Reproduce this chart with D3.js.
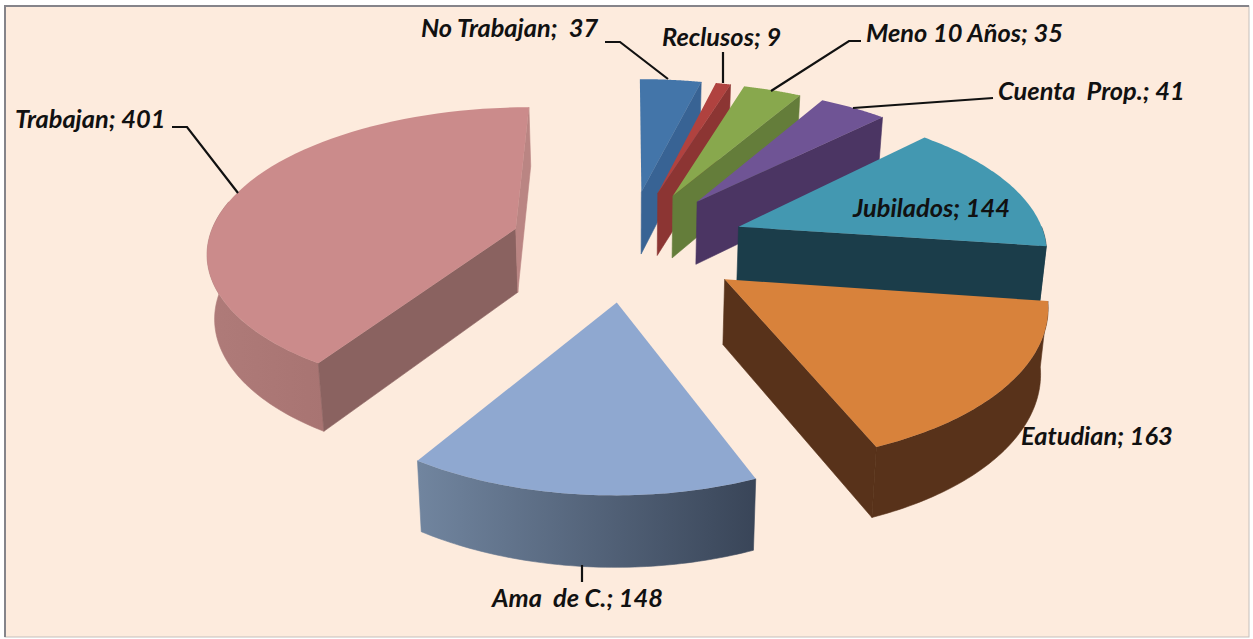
<!DOCTYPE html>
<html>
<head>
<meta charset="utf-8">
<script src="https://cdn.jsdelivr.net/npm/d3@7"></script>
<style>
  html, body { margin: 0; background: #fff; }
  text { font-family: Lato, "Open Sans", sans-serif; font-weight: 700; font-style: italic; font-size: 25.4px; fill: #111; white-space: pre; }
</style>
</head>
<body>
<svg width="1253" height="639"></svg>
<script>
const categories = ["No Trabajan", "Reclusos", "Meno 10 Años", "Cuenta  Prop.", "Jubilados", "Eatudian", "Ama  de C.", "Trabajan"];
const values = [37, 9, 35, 41, 144, 163, 148, 401];

const topColors = ["#4375A9", "#B0423F", "#88A84D", "#6F5495", "#4398B1", "#D8823B", "#8FA8D0", "#CB8B8B"];
const cutColors = ["#386394", "#8C3533", "#647D3A", "#4B3563", "#1B3D4A", "#58321A", "#5A6C88", "#8A6260"];
const rimColors = [["#386394", "#386394"], ["#8C3533", "#8C3533"], ["#647D3A", "#647D3A"], ["#4B3563", "#4B3563"],
                   ["#1B3D4A", "#1B3D4A"], ["#58321A", "#58321A"], ["#71859F", "#394558"], ["#AF7B79", "#A87472"]];

// label text anchor (left, middle baseline) and leader line, in page px
const labelX = [421, 662, 866, 998, 853, 1021, 492, 15];
const labelY = [28, 37, 33, 91, 208, 436, 598, 119];
const leaders = [
  [[605, 42], [620, 42], [668, 79]],
  [[723, 52], [723, 83]],
  [[861, 41], [849, 41], [771, 91]],
  [[993, 98], [853, 108]],
  [],
  [],
  [[582, 565], [582, 582]],
  [[172, 127], [187, 127], [238, 193]]
];

const svg = d3.select("svg");

const cx = 628, cy = 244, explode = 0.385, depth = 64;
const x = d3.scaleLinear().domain([0, 1]).range([cx, cx + 308]);
const y = d3.scaleLinear().domain([0, 1]).range([cy, cy - 144]);
const px = v => 1 / (1 + 0.135 * v);
const py = v => 1 / (1 + 0.15 * v);
const pz = v => 1 / (1 + 0.08 * v);

// ground point on the disc -> screen, h is 0 on top face, 1 on bottom
function project(u, v, h) {
  return [x(u * px(v) * (1 - 0.018 * h)), y(v * py(v)) + h * depth * pz(v)];
}

function slicePoint(d, a, r, h) {
  const m = (d.startAngle + d.endAngle) / 2;
  return project(explode * Math.sin(m) + r * Math.sin(a), explode * Math.cos(m) + r * Math.cos(a), h);
}

const line = d3.line();
const pie = d3.pie().sort(null).value(d => d)(values);

const defs = svg.append("defs");

svg.append("rect").attr("width", 1253).attr("height", 639).attr("fill", "#fff");
svg.append("rect").attr("x", 5).attr("y", 6).attr("width", 1244).attr("height", 631)
   .attr("fill", "#FDEBDD").attr("stroke", "#C4BFBB").attr("stroke-width", 1);
svg.append("path").attr("d", "M5,637V6H1249").attr("fill", "none").attr("stroke", "#85848A").attr("stroke-width", 2);

const slices = svg.selectAll(".slice").data(pie).enter().append("g").attr("class", "slice");

slices.each(function(d, i) {
  const g = d3.select(this);
  const steps = (a0, a1) => d3.range(0, 61).map(k => a0 + (a1 - a0) * k / 60);
  const arc = steps(d.startAngle, d.endAngle);

  // outer rim, front half only
  const a0 = Math.max(d.startAngle, Math.PI / 2), a1 = Math.min(d.endAngle, Math.PI * 1.5 + 0.2);
  if (a0 < a1) {
    const grad = defs.append("linearGradient").attr("id", "rim" + i);
    grad.append("stop").attr("offset", 0).attr("stop-color", rimColors[i][0]);
    grad.append("stop").attr("offset", 1).attr("stop-color", rimColors[i][1]);
    const front = steps(a0, a1);
    const rim = front.map(a => slicePoint(d, a, 1, 0)).concat(front.slice().reverse().map(a => slicePoint(d, a, 1, 1)));
    g.append("path").attr("d", line(rim) + "Z").attr("fill", `url(#rim${i})`)
     .attr("stroke", `url(#rim${i})`).attr("stroke-width", 0.6);
  }

  // cut faces, only those turned to the viewer
  if (Math.sin(d.startAngle) < -0.01) cutFace(g, d, d.startAngle, cutColors[i]);
  if (Math.sin(d.endAngle) > -0.01) cutFace(g, d, d.endAngle, i == 7 ? "#BA8583" : cutColors[i]);

  const top = [slicePoint(d, d.startAngle, 0, 0)].concat(arc.map(a => slicePoint(d, a, 1, 0)));
  g.append("path").attr("d", line(top) + "Z").attr("fill", topColors[i]);
});

function cutFace(g, d, a, color) {
  const quad = [slicePoint(d, a, 0, 0), slicePoint(d, a, 1, 0), slicePoint(d, a, 1, 1), slicePoint(d, a, 0, 1)];
  g.append("path").attr("d", line(quad) + "Z").attr("fill", color).attr("stroke", color).attr("stroke-width", 0.6);
}

svg.selectAll(".leader").data(leaders.filter(l => l.length)).enter().append("path")
   .attr("class", "leader").attr("d", line).attr("fill", "none").attr("stroke", "#111").attr("stroke-width", 2.2);

svg.selectAll(".label").data(pie).enter().append("text")
   .attr("class", "label").attr("x", (d, i) => labelX[i]).attr("y", (d, i) => labelY[i]).attr("dy", "0.35em")
   .text((d, i) => `${categories[i]};${i == 0 ? "  " : " "}${d.value}`);
</script>
</body>
</html>
